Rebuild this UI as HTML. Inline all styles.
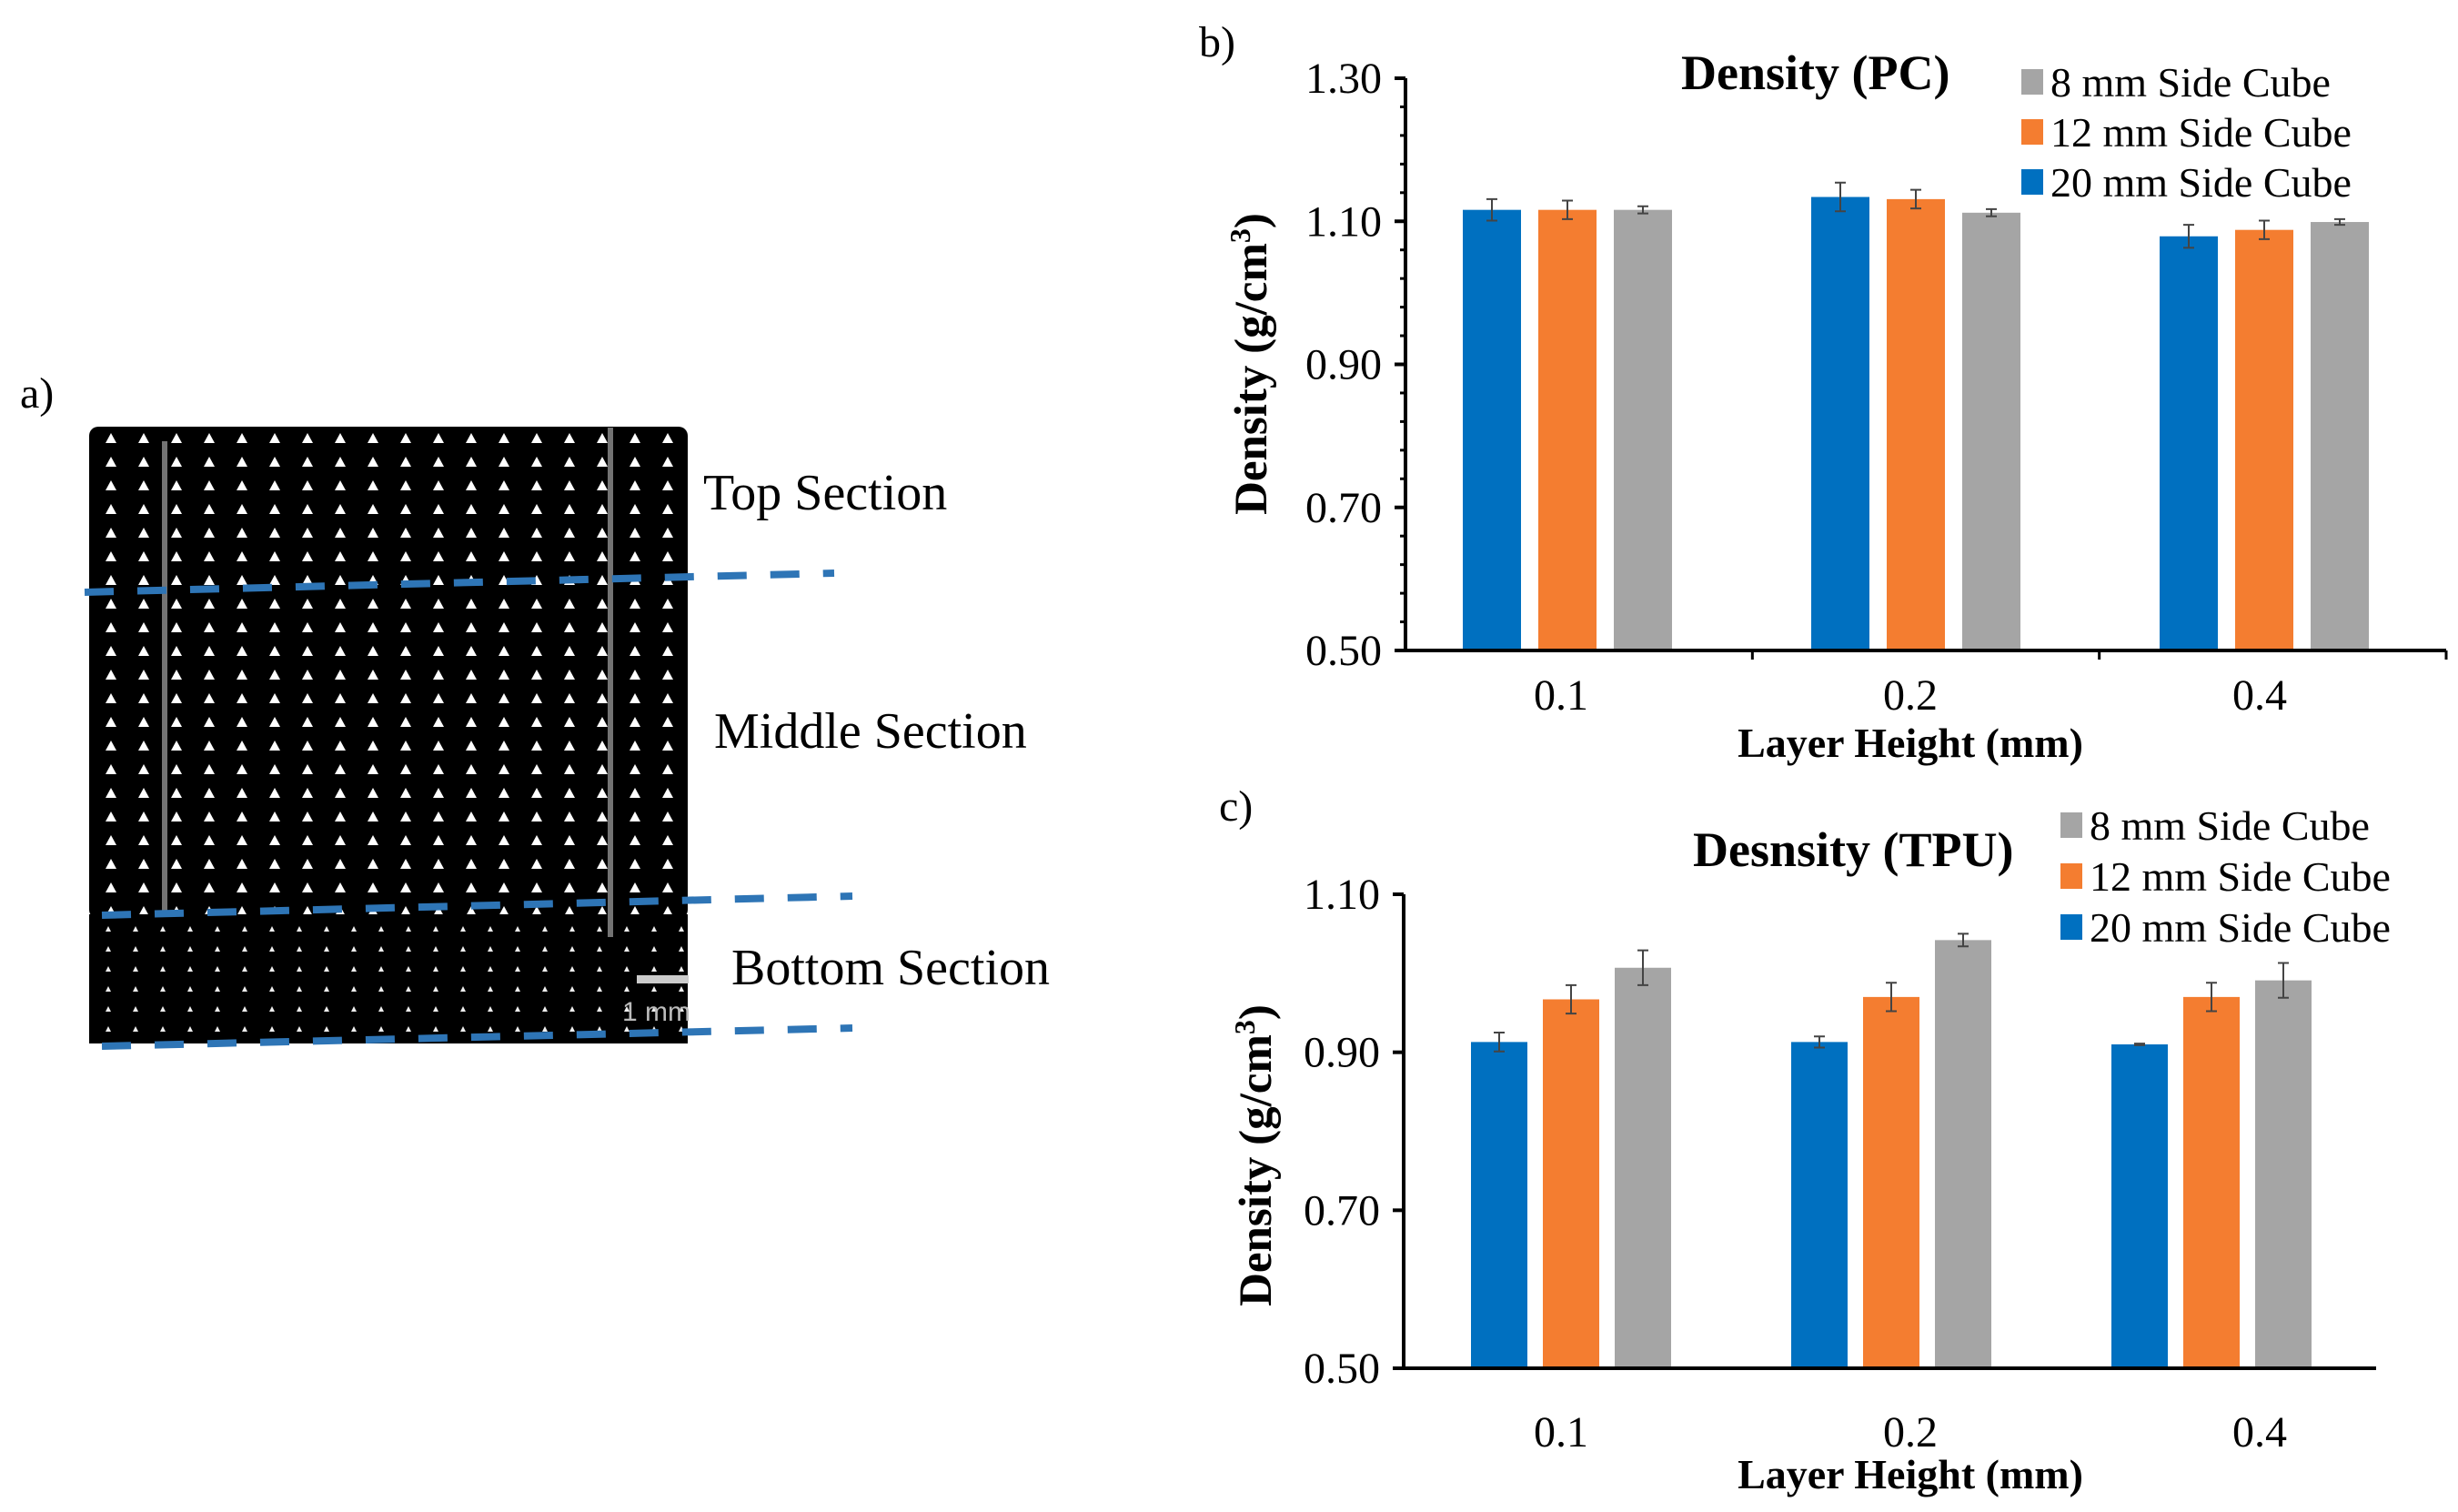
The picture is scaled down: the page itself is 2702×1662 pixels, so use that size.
<!DOCTYPE html>
<html><head><meta charset="utf-8"><style>
html,body{margin:0;padding:0;background:#fff;}
svg{display:block;font-family:"Liberation Serif",serif;}
</style></head><body>
<svg id="fig" width="2702" height="1662" viewBox="0 0 2702 1662" xmlns="http://www.w3.org/2000/svg">
<defs>
<pattern id="pores" x="104" y="469" width="36" height="26" patternUnits="userSpaceOnUse">
<rect width="36" height="26" fill="#000"/>
<path d="M18 7 l6 11 h-12 z" fill="#fff"/>
</pattern>
<pattern id="pores2" x="104" y="1010" width="30" height="22" patternUnits="userSpaceOnUse">
<rect width="30" height="22" fill="#000"/>
<path d="M15 8 l3 6 h-6 z" fill="#eee"/>
</pattern>
</defs>
<g>
<text x="22" y="448" font-size="48">a)</text>
<rect x="98" y="469" width="658" height="541" fill="url(#pores)" rx="10"/>
<rect x="98" y="1005" width="658" height="142" fill="url(#pores2)"/>
<rect x="178" y="485" width="6" height="520" fill="#fff" opacity="0.45"/>
<rect x="668" y="470" width="6" height="560" fill="#fff" opacity="0.45"/>
<g stroke="#2E75B6" stroke-width="8" stroke-dasharray="32,26">
<line x1="93" y1="651" x2="917" y2="630"/>
<line x1="112" y1="1006" x2="937" y2="985"/>
<line x1="112" y1="1150" x2="937" y2="1130"/>
</g>
<rect x="700" y="1072" width="57" height="9" fill="#ccc"/>
<text x="684" y="1122" font-size="30" fill="#bbb" font-family="Liberation Sans, sans-serif">1 mm</text>
<text x="773" y="560" font-size="56">Top Section</text>
<text x="785" y="822" font-size="56">Middle Section</text>
<text x="804" y="1082" font-size="56">Bottom Section</text>
</g>
<g id="chartB"></g>
<g id="chartC"></g>
</svg>
<script>
const categories = ["0.1","0.2","0.4"];
const seriesNames = ["20 mm Side Cube","12 mm Side Cube","8 mm Side Cube"];
const pcBlue = [1.116,1.134,1.079];
const pcOrange = [1.116,1.131,1.088];
const pcGray = [1.116,1.112,1.099];
const pcBlueErr = [0.015,0.02,0.016];
const pcOrangeErr = [0.013,0.013,0.013];
const pcGrayErr = [0.005,0.005,0.004];
const tpuBlue = [0.913,0.913,0.910];
const tpuOrange = [0.967,0.970,0.970];
const tpuGray = [1.007,1.042,0.991];
const tpuBlueErr = [0.012,0.007,0.001];
const tpuOrangeErr = [0.018,0.018,0.018];
const tpuGrayErr = [0.022,0.008,0.022];
const pcTicks = ["0.50","0.70","0.90","1.10","1.30"];
const tpuTicks = ["0.50","0.70","0.90","1.10"];
const colors = ["#0070C0","#F47D30","#A5A5A5"];
const NS="http://www.w3.org/2000/svg";
function mk(parent,tag,attrs){const e=document.createElementNS(NS,tag);for(const k in attrs)e.setAttribute(k,attrs[k]);parent.appendChild(e);return e;}

function drawChart(g,cfg){
  const {x0,x1,yTop,yBot,min,max,ticks,minorStep,vals,errs,title,titleX,titleY,legX,legY,legDy,panel,panelX,panelY,ylabX,ylabY,tickLblY,xTitleY,barStart,barBand,barGap,barW,showXTicks,lblStart,lblBand}=cfg;
  const ys=v=>yBot-(v-min)/(max-min)*(yBot-yTop);
  const bandW=(x1-x0)/3;
  const xl=i=>lblStart+lblBand*i;
  const xb=i=>barStart+barBand*i;
  const t=mk(g,'text',{x:panelX,y:panelY,'font-size':48});t.textContent=panel;
  
  
  categories.forEach((c,i)=>{
    [0,1,2].forEach(s=>{
      const v=vals[s][i];const bx=xb(i)+(s-1)*barGap-barW/2;
      const r=mk(g,'rect',{x:bx,y:ys(v),width:barW,height:yBot-ys(v),fill:colors[s]});
      
      
      const e=errs[s][i];const cx=bx+barW/2;
      const eb=mk(g,'path',{d:`M${cx-6} ${ys(v+e)}H${cx+6}M${cx} ${ys(v+e)}V${ys(v-e)}M${cx-6} ${ys(v-e)}H${cx+6}`,stroke:'#444','stroke-width':2,fill:'none'});
      
      
    });
    const lab=mk(g,'text',{x:xl(i),y:tickLblY,'font-size':48,'text-anchor':'middle'});lab.textContent=c;
    
    
  });
  const ya=mk(g,'line',{x1:x0,y1:yTop,x2:x0,y2:yBot+2,stroke:'#000','stroke-width':4});
  
  
  const xa=mk(g,'line',{x1:x0,y1:yBot,x2:x1,y2:yBot,stroke:'#000','stroke-width':4});
  
  
  if(showXTicks){for(let i=1;i<=3;i++){const tk=mk(g,'line',{x1:x0+bandW*i,y1:yBot,x2:x0+bandW*i,y2:yBot+10,stroke:'#000','stroke-width':3});
    
    }}
  if(minorStep){for(let v=min;v<=max+1e-9;v+=minorStep){const m=mk(g,'line',{x1:x0-6,y1:ys(v),x2:x0,y2:ys(v),stroke:'#000','stroke-width':3});
    
    }}
  ticks.forEach(tl=>{const v=parseFloat(tl);
    const tk=mk(g,'line',{x1:x0-12,y1:ys(v),x2:x0,y2:ys(v),stroke:'#000','stroke-width':4});
    
    
    const l=mk(g,'text',{x:x0-26,y:ys(v)+16,'font-size':48,'text-anchor':'end'});l.textContent=tl;
    
    });
  const yl=mk(g,'text',{x:0,y:0,'font-size':51,'font-weight':'bold','text-anchor':'middle',transform:`translate(${ylabX},${ylabY}) rotate(-90)`});
  yl.innerHTML='Density (g/cm<tspan dy="-18" font-size="32">3</tspan><tspan dy="18">)</tspan>';
  
  
  const xt=mk(g,'text',{x:xl(1),y:xTitleY,'font-size':46,'font-weight':'bold','text-anchor':'middle'});xt.textContent='Layer Height (mm)';
  
  
  const tt=mk(g,'text',{x:titleX,y:titleY,'font-size':54,'font-weight':'bold'});tt.textContent=title;
  
  
  [2,1,0].forEach((s,k)=>{
    const yy=legY+k*legDy;
    const sq=mk(g,'rect',{x:legX,y:yy-14,width:24,height:28,fill:colors[s]});
    
    
    const lt=mk(g,'text',{x:legX+32,y:yy+16,'font-size':46});lt.textContent=seriesNames[s];
    
    
  });
}
drawChart(document.getElementById('chartB'),{x0:1545,x1:2689,yTop:86,yBot:715,min:0.5,max:1.3,ticks:pcTicks,minorStep:0.04,
  vals:[pcBlue,pcOrange,pcGray],errs:[pcBlueErr,pcOrangeErr,pcGrayErr],title:'Density (PC)',titleX:1848,titleY:98,
  legX:2222,legY:90,legDy:55,panel:'b)',panelX:1318,panelY:62,ylabX:1392,ylabY:400,tickLblY:780,xTitleY:832,
  barStart:1723,barBand:383,barGap:83,barW:64,showXTicks:true,lblStart:1716,lblBand:384});
drawChart(document.getElementById('chartC'),{x0:1543,x1:2612,yTop:983,yBot:1504,min:0.5,max:1.1,ticks:tpuTicks,minorStep:0,
  vals:[tpuBlue,tpuOrange,tpuGray],errs:[tpuBlueErr,tpuOrangeErr,tpuGrayErr],title:'Desnsity (TPU)',titleX:1861,titleY:952,
  legX:2265,legY:907,legDy:56,panel:'c)',panelX:1340,panelY:902,ylabX:1397,ylabY:1270,tickLblY:1590,xTitleY:1636,
  barStart:1727,barBand:352,barGap:79,barW:62,showXTicks:false,lblStart:1716,lblBand:384});
</script>
</body></html>
